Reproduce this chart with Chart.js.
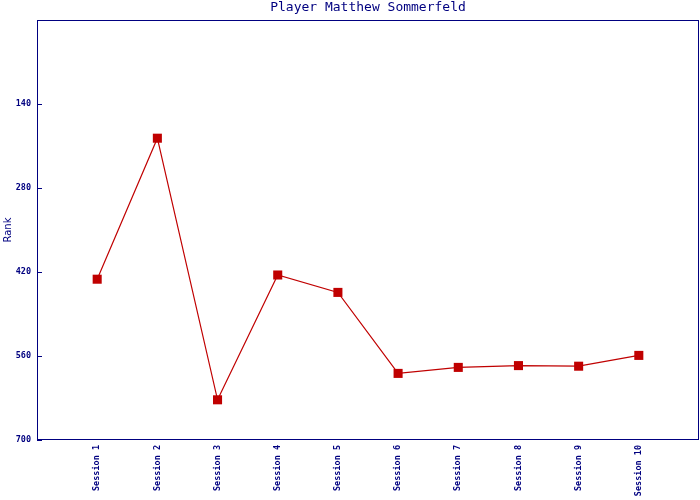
<!DOCTYPE html>
<html>
<head>
<meta charset="utf-8">
<script src="https://cdn.jsdelivr.net/npm/chart.js@4"></script>
<style>
    html, body { margin: 0; padding: 0; background: #ffffff; }
    #wrap { width: 700px; height: 500px; }
</style>
</head>
<body>
<div id="wrap"><canvas id="rank-chart" width="700" height="500"></canvas></div>
<script>
// Chart data
const sessionLabels = ['Session 1', 'Session 2', 'Session 3', 'Session 4', 'Session 5',
    'Session 6', 'Session 7', 'Session 8', 'Session 9', 'Session 10'];
const rankValues = [432, 197, 633, 425, 454, 589, 579, 576, 577, 559];
const rankTicks = [140, 280, 420, 560, 700];

const NAVY = '#000080';
const RED = '#c00000';

/**
 * Frame around the plot and small inward ticks on the rank axis
 */
const framePlugin = {
    id: 'frame',
    afterDraw(chart) {
        const { ctx, chartArea, scales } = chart;
        ctx.save();
        ctx.strokeStyle = NAVY;
        ctx.lineWidth = 1;
        ctx.strokeRect(chartArea.left + 0.5, chartArea.top + 0.5,
            chartArea.right - chartArea.left - 1, chartArea.bottom - chartArea.top - 1);

        ctx.beginPath();
        rankTicks.forEach(v => {
            const y = Math.round(scales.y.getPixelForValue(v)) + 0.5;
            ctx.moveTo(chartArea.left, y);
            ctx.lineTo(chartArea.left + 5, y);
        });
        ctx.stroke();
        ctx.restore();
    }
};

const ctx = document.getElementById('rank-chart').getContext('2d');

new Chart(ctx, {
    type: 'line',
    data: {
        datasets: [{
            label: 'Rank',
            data: rankValues.map((r, i) => ({ x: i + 1, y: r })),
            borderColor: RED,
            borderWidth: 1.2,
            backgroundColor: RED,
            pointStyle: 'rect',
            pointRadius: 6.4,
            pointBorderWidth: 0,
            pointBackgroundColor: RED,
            tension: 0
        }]
    },
    options: {
        responsive: false,
        animation: false,
        layout: {
            autoPadding: false,
            padding: { left: 0, right: 1, top: 0, bottom: 0 }
        },
        plugins: {
            legend: { display: false },
            tooltip: { enabled: false },
            title: {
                display: true,
                text: 'Player Matthew Sommerfeld',
                color: NAVY,
                fullSize: false,
                font: { family: 'DejaVu Sans Mono', size: 13, weight: 'normal', lineHeight: 1.2 },
                padding: { top: 0, bottom: 4.4 }
            }
        },
        scales: {
            x: {
                type: 'linear',
                min: 0,
                max: sessionLabels.length + 1,
                afterBuildTicks: scale => {
                    scale.ticks = sessionLabels.map((_, i) => ({ value: i + 1 }));
                },
                afterFit: scale => {
                    scale.height = 60;
                    scale.paddingLeft = 0;
                    scale.paddingRight = 0;
                },
                grid: { display: false, drawTicks: false },
                border: { display: false },
                ticks: {
                    autoSkip: false,
                    minRotation: 90,
                    maxRotation: 90,
                    padding: 5,
                    color: NAVY,
                    font: { family: 'DejaVu Sans Mono', size: 8.5, weight: 'bold' },
                    callback: v => sessionLabels[v - 1] || ''
                }
            },
            y: {
                type: 'linear',
                reverse: true,
                min: 0,
                max: 700,
                afterBuildTicks: scale => {
                    scale.ticks = rankTicks.map(v => ({ value: v }));
                },
                afterFit: scale => {
                    scale.width = 37;
                    scale.paddingTop = 0;
                    scale.paddingBottom = 0;
                },
                grid: { display: false, drawTicks: false },
                border: { display: false },
                title: {
                    display: true,
                    text: 'Rank',
                    color: NAVY,
                    font: { family: 'DejaVu Sans', size: 10, lineHeight: 1.2 },
                    padding: { top: 2, bottom: 0 }
                },
                ticks: {
                    padding: 6,
                    color: NAVY,
                    font: { family: 'DejaVu Sans Mono', size: 8.5, weight: 'bold' }
                }
            }
        }
    },
    plugins: [framePlugin]
});
</script>
</body>
</html>
